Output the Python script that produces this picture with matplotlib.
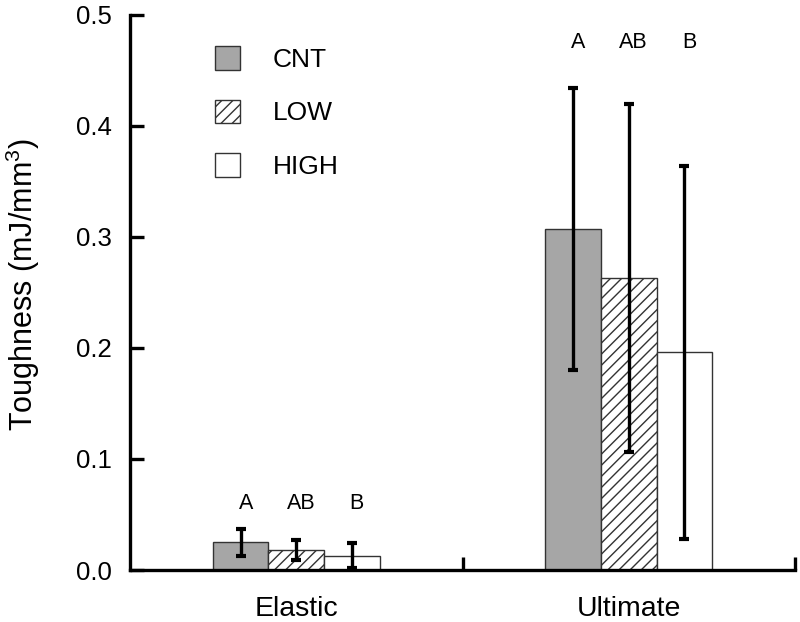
import matplotlib
matplotlib.use("Agg")
import matplotlib.pyplot as plt
import numpy as np
from matplotlib.patches import Patch

plt.rcParams['font.family'] = ['Liberation Sans', 'DejaVu Sans']
plt.rcParams['mathtext.fontset'] = 'custom'
plt.rcParams['mathtext.rm'] = 'Liberation Sans'
plt.rcParams['hatch.color'] = '#666666'
plt.rcParams['hatch.linewidth'] = 1.0

categories = ["Elastic", "Ultimate"]
groups = ["CNT", "LOW", "HIGH"]
means = {
    "CNT":  [0.025, 0.307],
    "LOW":  [0.018, 0.263],
    "HIGH": [0.013, 0.196],
}
errors = {
    "CNT":  [0.012, 0.127],
    "LOW":  [0.009, 0.157],
    "HIGH": [0.011, 0.168],
}
letters = {
    "CNT":  ["A", "A"],
    "LOW":  ["AB", "AB"],
    "HIGH": ["B", "B"],
}
letter_y = [0.060, 0.475]

facecolors = {"CNT": "#a6a6a6", "LOW": "white", "HIGH": "white"}
hatches = {"CNT": None, "LOW": "///", "HIGH": None}

fig = plt.figure(figsize=(8, 6.22), dpi=100)
ax = fig.add_axes([130/800, 1-570/622, (795-130)/800, (570-15)/622])

x = np.arange(len(categories)) + 0.5
width = 0.167
offsets = [-width, 0, width]

for g, off in zip(groups, offsets):
    xs = x + off
    ax.bar(xs, means[g], width=width, color=facecolors[g], edgecolor='#333333',
           linewidth=1.0, hatch=hatches[g], zorder=2)
    ax.errorbar(xs, means[g], yerr=errors[g], fmt='none', ecolor='black',
                elinewidth=2.4, capsize=3.8, capthick=3.0, zorder=3)
    for xi, lab, ly in zip(xs, letters[g], letter_y):
        ax.text(xi + 0.015, ly, lab, ha='center', va='center', fontsize=15.5)

ax.set_xlim(0, 2)
ax.set_ylim(0, 0.5)
ax.set_yticks([0.0, 0.1, 0.2, 0.3, 0.4, 0.5])
ax.set_yticklabels(["0.0", "0.1", "0.2", "0.3", "0.4", "0.5"])
ax.set_xticks([1, 2])
ax.set_xticklabels(["", ""])
ax.set_xticks(x, minor=True)
ax.set_xticklabels(categories, minor=True)

ax.spines['top'].set_visible(False)
ax.spines['right'].set_visible(False)
for s in ['left', 'bottom']:
    ax.spines[s].set_linewidth(2.4)
    ax.spines[s].set_color('black')

ax.tick_params(axis='y', direction='in', length=10, width=2.4, labelsize=18.5, pad=13)
ax.tick_params(axis='x', which='major', direction='in', length=9.5, width=2.4)
ax.tick_params(axis='x', which='minor', length=0, labelsize=20.5, pad=19)

ax.set_ylabel(r"Toughness (mJ/mm$^\mathregular{3}$)", fontsize=22)
ax.yaxis.set_label_coords(-88/665, 0.514)

handles = [Patch(facecolor=facecolors[g], edgecolor='#333333', hatch=hatches[g], linewidth=1.0)
           for g in groups]
ax.legend(handles, groups, loc='upper left', bbox_to_anchor=(215/800, 1-46/622),
          bbox_transform=fig.transFigure, frameon=False, fontsize=19,
          handlelength=0.95, handleheight=1.0, handletextpad=1.25,
          labelspacing=1.05, borderpad=0, borderaxespad=0)

fig.savefig("out.png", dpi=100)
